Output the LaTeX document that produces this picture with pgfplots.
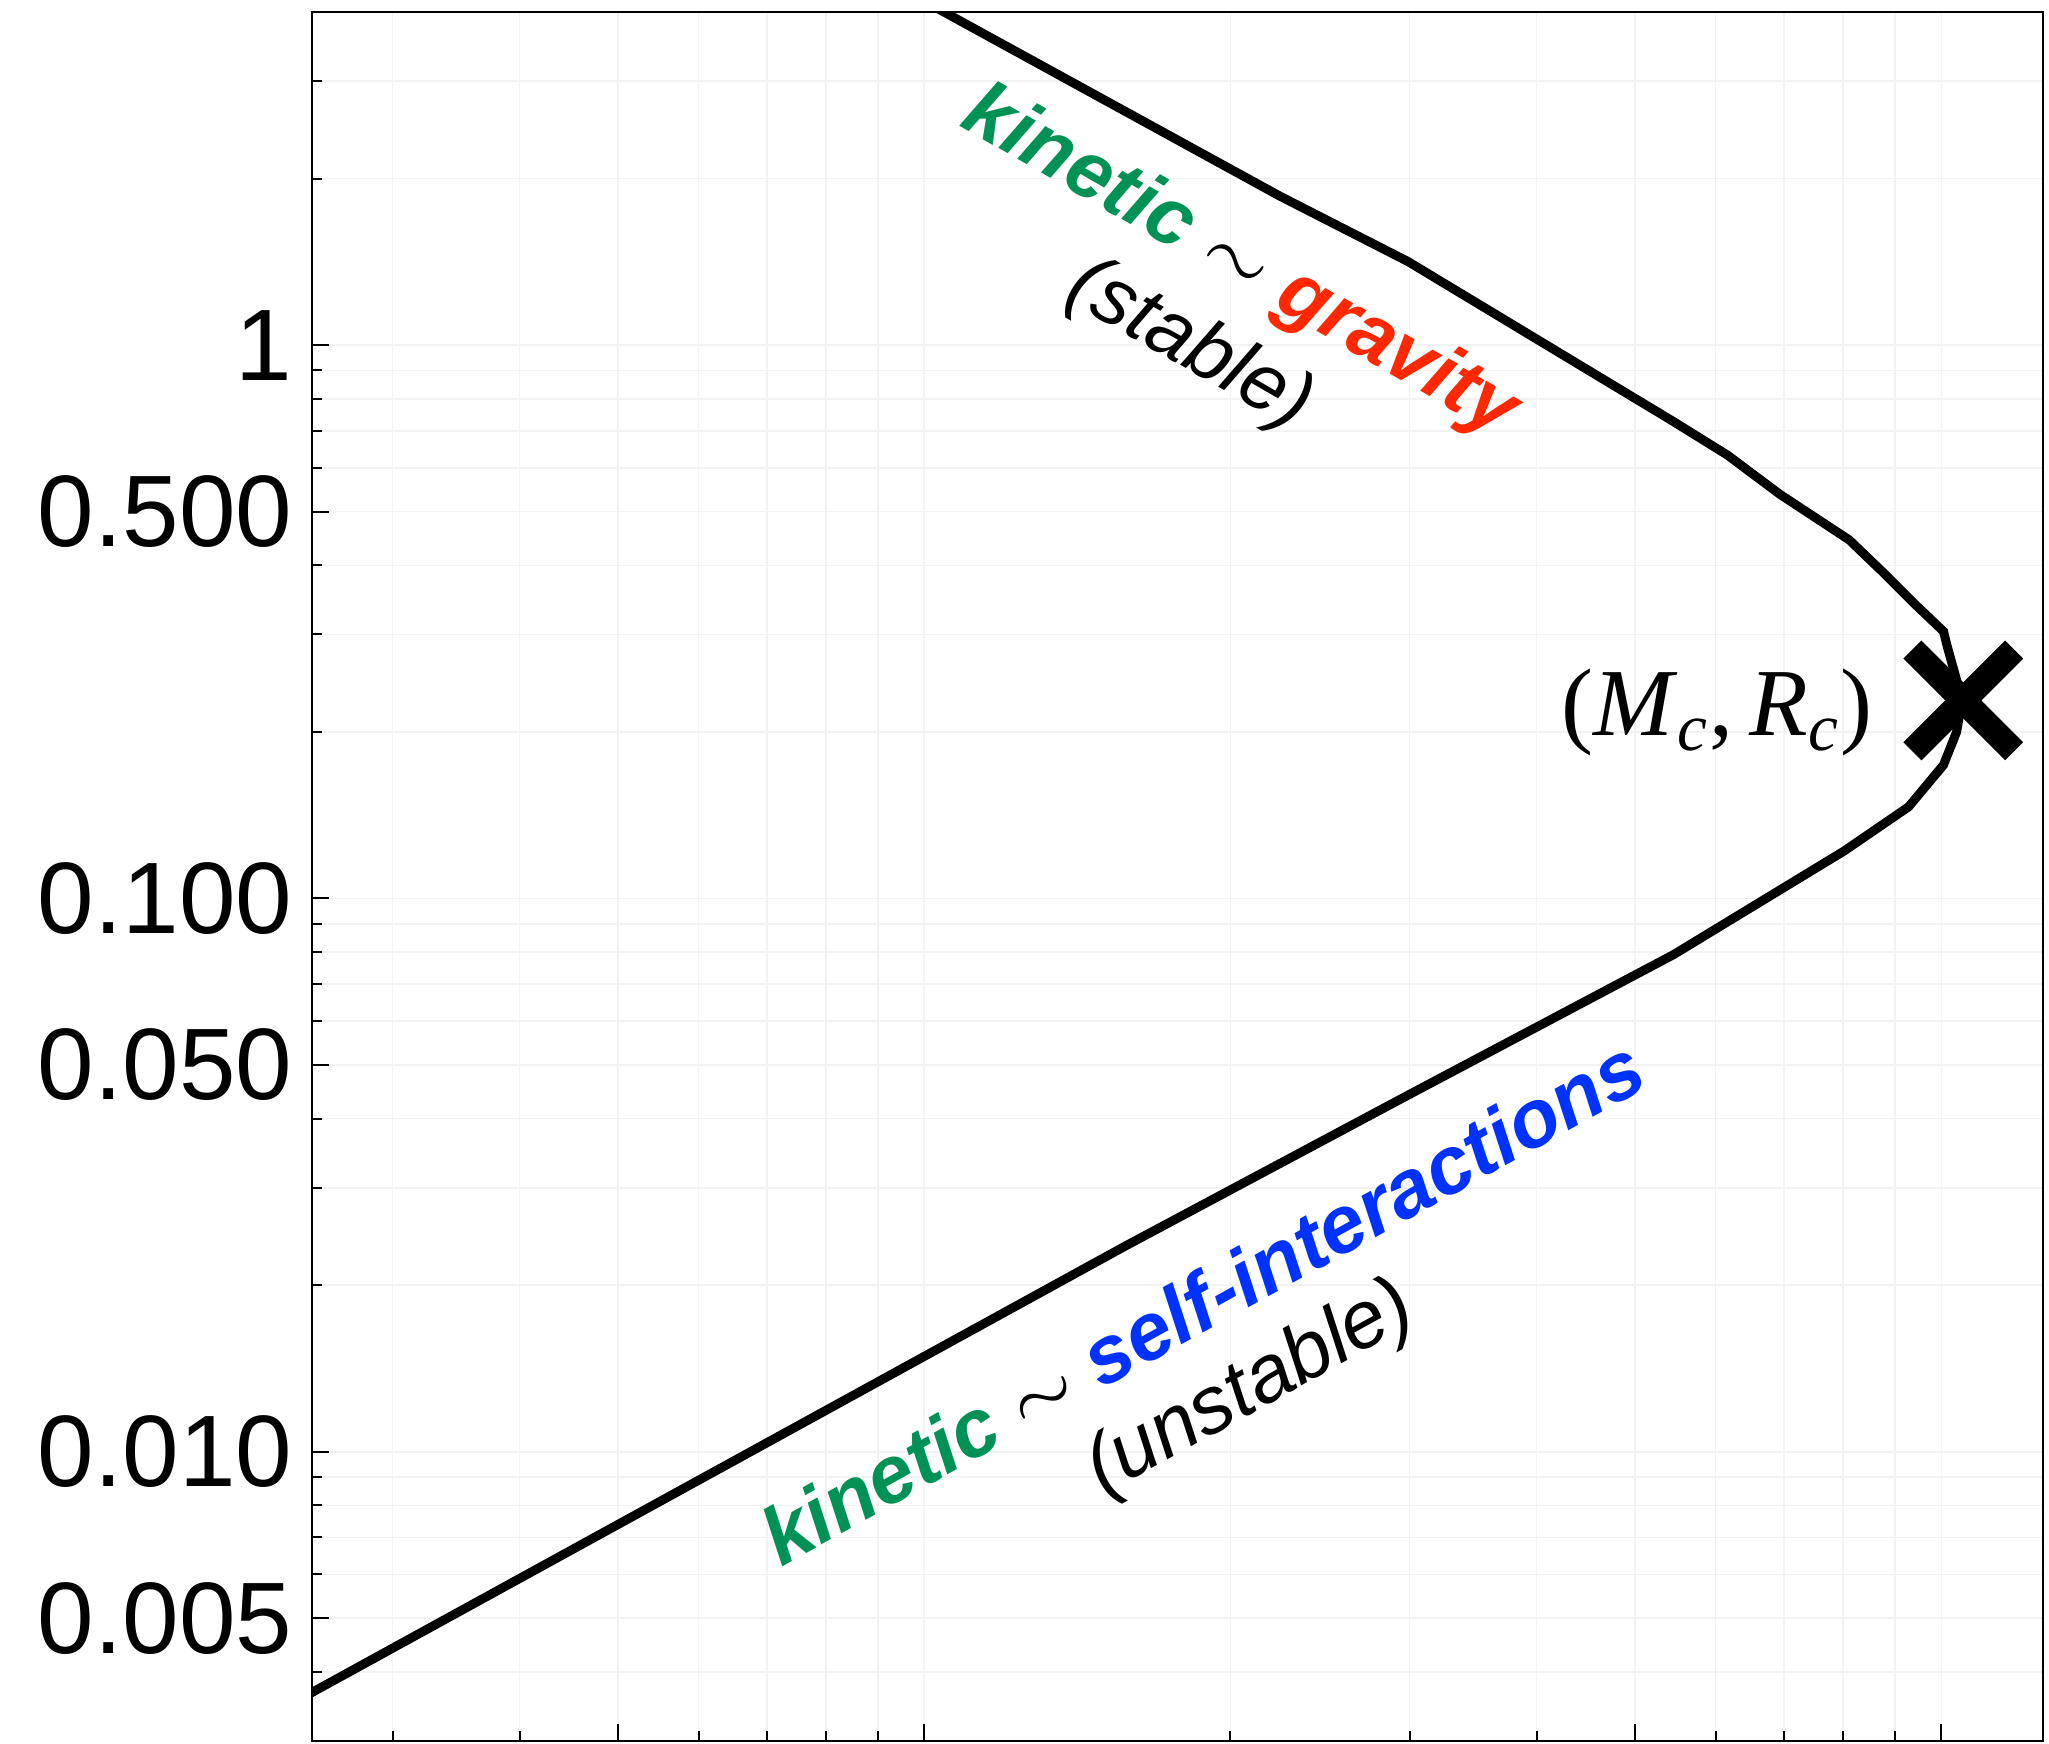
\documentclass[border=0pt]{standalone}
\usepackage{pgfplots}
\pgfplotsset{compat=1.18}
\usepackage{pgfplotstable}
\usepackage{amsmath}
\usepackage{fontspec}
\setmainfont{Liberation Sans}
\newfontfamily\timesfont{Liberation Serif}

\definecolor{kingreen}{RGB}{0,145,85}
\definecolor{gravred}{RGB}{255,40,0}
\definecolor{selfblue}{RGB}{0,50,255}

% mass--radius curve (stable branch from the top, unstable branch to the bottom left)
\pgfplotstableread{
x        y
0.07761  5.402
0.2236   1.860
0.2990   1.416
0.5441   0.7294
0.6161   0.6330
0.6937   0.5377
0.8118   0.4446
0.8744   0.3901
0.9445   0.3387
1.005    0.3038
1.014    0.2844
1.035    0.2485
1.047    0.2250
1.035    0.1998
1.005    0.1743
0.9286   0.1464
0.8023   0.1218
0.5456   0.07918
0.2990   0.04410
0.1576   0.02353
0.01995  0.002924
}\mrcurve

\begin{document}
\begin{tikzpicture}
\begin{axis}[
  name=main,
  scale only axis, width=432.75pt, height=432.25pt,
  xmode=log, ymode=log,
  xmin=0.025, xmax=1.2589, ymin=0.003, ymax=4,
  xtick={0.05,0.1,0.5,1}, xticklabels={},
  minor xtick={0.03,0.04,0.06,0.07,0.08,0.09,0.2,0.3,0.4,0.6,0.7,0.8,0.9},
  ytick={0.005,0.01,0.05,0.1,0.5,1},
  yticklabels={0.005,0.010,0.050,0.100,0.500,1},
  minor ytick={0.004,0.006,0.007,0.008,0.009,0.02,0.03,0.04,0.06,0.07,0.08,0.09,0.2,0.3,0.4,0.6,0.7,0.8,0.9,2,3},
  xtick pos=bottom, ytick pos=left, tick align=inside,
  major tick length=4.25pt, minor tick length=2.5pt,
  every tick/.style={black, line width=0.5pt},
  grid=both,
  major grid style={black!5, line width=0.4pt},
  minor grid style={black!5, line width=0.4pt},
  axis line style={line width=0.6pt},
  /pgf/number format/assume math mode=true,
  yticklabel style={font=\fontsize{25.4}{30}\selectfont, anchor=east, inner sep=0pt, xshift=-4.75pt},
]
\addplot[black, line width=2.25pt, mark=none] table[x=x, y=y] {\mrcurve};
\addplot[only marks, mark=x, mark size=18pt, mark options={line width=6.4pt, black}] coordinates {(1.051,0.228)};

\node[rotate=-30, font=\fontsize{20}{24}\selectfont] at (rel axis cs:0.536,0.8545)
  {\textcolor{kingreen}{\bfseries\itshape kinetic} $\sim$ \textcolor{gravred}{\bfseries\itshape gravity}};
\node[rotate=-30, font=\fontsize{20}{24}\selectfont\itshape] at (rel axis cs:0.507,0.8065) {(stable)};
\node[rotate=29, font=\fontsize{20.3}{24}\selectfont] at (rel axis cs:0.514,0.2545)
  {\textcolor{kingreen}{\bfseries\itshape kinetic} $\sim$ \textcolor{selfblue}{\bfseries\itshape self-interactions}};
\node[rotate=29, font=\fontsize{20.3}{24}\selectfont\itshape] at (rel axis cs:0.5425,0.203) {(unstable)};
\node[font=\timesfont\fontsize{24}{29}\selectfont] at (rel axis cs:0.8115,0.5951)
  {(\textit{M}$_{\textit{c}}$,\,\textit{R}$_{\textit{c}}$)};
\end{axis}
\pgfresetboundingbox
\path[use as bounding box] ([xshift=-78pt,yshift=-0.5pt]main.south west) rectangle ([xshift=1.5pt,yshift=3pt]main.north east);
\end{tikzpicture}
\end{document}
